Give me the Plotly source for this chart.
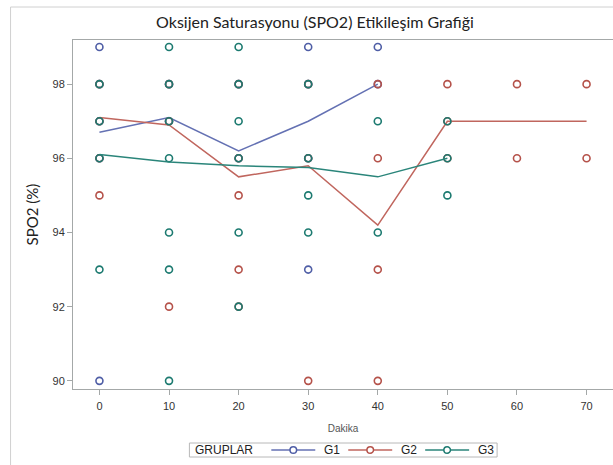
import plotly.graph_objects as go

# Minutes of measurement
times = [0, 10, 20, 30, 40, 50, 60, 70]

# Group means (interaction lines)
g1_mean = [96.7, 97.1, 96.2, 97.0, 98.0]
g2_mean = [97.1, 96.9, 95.5, 95.8, 94.2, 97.0, 97.0, 97.0]
g3_mean = [96.1, 95.9, 95.8, 95.75, 95.5, 96.0]

# Individual observations per group: minute -> SPO2 values
g1_obs = {0: [99, 98, 97, 96, 90], 10: [98, 97], 20: [98, 96],
          30: [99, 98, 96, 93], 40: [99, 98]}
g2_obs = {0: [98, 97, 96, 95], 10: [98, 97, 92], 20: [98, 96, 95, 93, 92],
          30: [98, 96, 90], 40: [98, 96, 93, 90], 50: [98, 97, 96],
          60: [98, 96], 70: [98, 96]}
g3_obs = {0: [98, 97, 96, 93], 10: [99, 98, 97, 96, 94, 93, 90],
          20: [99, 98, 97, 96, 94, 92], 30: [98, 96, 95, 94],
          40: [97, 94], 50: [97, 96, 95]}

groups = ["G1", "G2", "G3"]
legend_title = "GRUPLAR"
marker_colors = ["#4f5ea6", "#b5524a", "#1c7a70"]
line_colors = ["#6471b3", "#c0665e", "#2a857a"]

x_ticks = [0, 10, 20, 30, 40, 50, 60, 70]
y_ticks = [90, 92, 94, 96, 98]

fig = go.Figure()

means = [g1_mean, g2_mean, g3_mean]
obs = [g1_obs, g2_obs, g3_obs]

for name, m, o, mc, lc in zip(groups, means, obs, marker_colors, line_colors):
    xs, ys = [], []
    for t, vals in o.items():
        xs += [t] * len(vals)
        ys += vals
    fig.add_trace(go.Scatter(
        x=xs, y=ys, mode="markers", name=name, showlegend=False,
        marker=dict(symbol="circle-open", size=7, color=mc, line=dict(width=1.6, color=mc)),
    ))
    fig.add_trace(go.Scatter(
        x=times[:len(m)], y=m, mode="lines", name=name, showlegend=False,
        line=dict(color=lc, width=1.5),
    ))

W, H = 613, 465
ml, mr, mt, mb = 72.5, 0, 40, 76
pw, ph = W - ml - mr, H - mt - mb

def px_to_paper_x(px):
    return (px - ml) / pw

def px_to_paper_y(py):
    return (H - mb - py) / ph

# outer frame (top and left edges)
frame_color = "#d0d0d0"
fig.add_shape(type="line", xref="paper", yref="paper",
              x0=px_to_paper_x(10), x1=px_to_paper_x(W + 5),
              y0=px_to_paper_y(7), y1=px_to_paper_y(7),
              line=dict(color=frame_color, width=1))
fig.add_shape(type="line", xref="paper", yref="paper",
              x0=px_to_paper_x(10), x1=px_to_paper_x(10),
              y0=px_to_paper_y(7), y1=px_to_paper_y(H + 5),
              line=dict(color=frame_color, width=1))

# legend box below the plot: title, then line–marker–line swatches with labels
leg_left, leg_right, leg_top, leg_bot = 189, 497, 443, 457
leg_mid = (leg_top + leg_bot) / 2
fig.add_shape(type="rect", xref="paper", yref="paper",
              x0=px_to_paper_x(leg_left), x1=px_to_paper_x(leg_right),
              y0=px_to_paper_y(leg_bot), y1=px_to_paper_y(leg_top),
              line=dict(color="#b8b8b8", width=1), fillcolor="white")
leg_font = dict(family="Liberation Sans", size=12, color="#222")
fig.add_annotation(xref="paper", yref="paper", x=px_to_paper_x(193), y=px_to_paper_y(leg_mid),
                   xanchor="left", yanchor="middle", text=legend_title, showarrow=False,
                   font=leg_font)
swatch_starts = [271, 348, 425]
swatch_len = 44
for name, mc, lc, sx in zip(groups, marker_colors, line_colors, swatch_starts):
    fig.add_shape(type="line", xref="paper", yref="paper",
                  x0=px_to_paper_x(sx), x1=px_to_paper_x(sx + swatch_len),
                  y0=px_to_paper_y(leg_mid), y1=px_to_paper_y(leg_mid),
                  line=dict(color=lc, width=1.5))
    cx = sx + swatch_len / 2
    fig.add_shape(type="circle", xref="paper", yref="paper",
                  x0=px_to_paper_x(cx - 3.3), x1=px_to_paper_x(cx + 3.3),
                  y0=px_to_paper_y(leg_mid + 3.3), y1=px_to_paper_y(leg_mid - 3.3),
                  line=dict(color=mc, width=1.5), fillcolor="white")
    fig.add_annotation(xref="paper", yref="paper", x=px_to_paper_x(sx + swatch_len + 7),
                       y=px_to_paper_y(leg_mid), xanchor="left", yanchor="middle",
                       text=name, showarrow=False, font=leg_font)

axis_color = "#a4a8a8"
fig.update_layout(
    width=W, height=H,
    margin=dict(l=ml, r=mr, t=mt, b=mb, pad=0, autoexpand=False),
    paper_bgcolor="white", plot_bgcolor="white", showlegend=False,
    title=dict(text="Oksijen Saturasyonu (SPO2) Etikileşim Grafiği",
               x=(315) / W, xanchor="center", y=1 - 22 / H, yanchor="middle",
               font=dict(family="Lato", size=16, color="#222")),
    xaxis=dict(range=[-3.8, 73.8], tickvals=x_ticks, showgrid=False, zeroline=False,
               showline=True, linecolor=axis_color, linewidth=1, mirror=True,
               ticks="outside", ticklen=5, tickcolor=axis_color, ticklabelstandoff=2,
               automargin=False,
               tickfont=dict(family="Liberation Sans", size=11, color="#333"),
               title=dict(text="Dakika", standoff=13,
                          font=dict(family="Liberation Sans", size=10, color="#555"))),
    yaxis=dict(range=[89.78, 99.19], tickvals=y_ticks, showgrid=False, zeroline=False,
               showline=True, linecolor=axis_color, linewidth=1, mirror=True,
               ticks="outside", ticklen=5, tickcolor=axis_color, automargin=False,
               tickfont=dict(family="Liberation Sans", size=11, color="#333"),
               title=dict(text="SPO2 (%)", standoff=10,
                          font=dict(family="Lato", size=15, color="#222"))),
)

fig.write_html("out.html")
